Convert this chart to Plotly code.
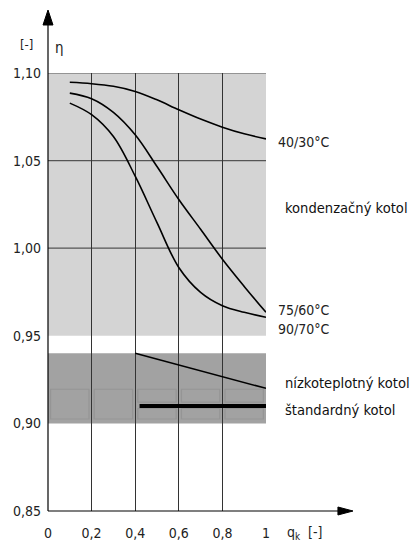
import plotly.graph_objects as go

# ---- data ----
q_load = [0.1, 0.2, 0.3, 0.4, 0.5, 0.6, 0.7, 0.8, 0.9, 1.0]
eta_40_30 = [1.0947, 1.0939, 1.0924, 1.0895, 1.0847, 1.0790, 1.0737, 1.0691, 1.0653, 1.0624]
eta_75_60 = [1.0885, 1.0853, 1.0775, 1.0647, 1.0466, 1.0278, 1.0108, 0.9937, 0.9782, 0.9634]
eta_90_70 = [1.0828, 1.0762, 1.0637, 1.0411, 1.0146, 0.9890, 0.9748, 0.9672, 0.9634, 0.9606]

lowtemp_q = [0.4, 1.0]
lowtemp_eta = [0.940, 0.920]
standard_q = [0.42, 1.0]
standard_eta = [0.910, 0.910]

series_labels = ["40/30°C", "75/60°C", "90/70°C"]
label_y = [1.0606, 0.9647, 0.9539]

x_ticks = [0, 0.2, 0.4, 0.6, 0.8, 1.0]
x_ticktext = ["0", "0,2", "0,4", "0,6", "0,8", "1"]
y_ticks = [0.85, 0.90, 0.95, 1.00, 1.05, 1.10]
y_ticktext = ["0,85", "0,90", "0,95", "1,00", "1,05", "1,10"]

cond_band = (0.95, 1.10)
conv_band = (0.90, 0.94)
h_grid = [1.10, 1.05, 1.00]

TICKFONT = "DejaVu Sans Condensed, DejaVu Sans, sans-serif"
LABFONT = "DejaVu Sans Condensed, DejaVu Sans, sans-serif"

fig = go.Figure()

for ys in (eta_40_30, eta_75_60, eta_90_70):
    fig.add_trace(go.Scatter(x=q_load, y=ys, mode="lines",
                             line=dict(color="black", width=1.6, shape="spline", smoothing=1.0),
                             hoverinfo="skip", showlegend=False))

fig.add_trace(go.Scatter(x=lowtemp_q, y=lowtemp_eta, mode="lines",
                         line=dict(color="black", width=1.5), showlegend=False))
fig.add_trace(go.Scatter(x=standard_q, y=standard_eta, mode="lines",
                         line=dict(color="black", width=4), showlegend=False))

shapes = []
# shaded bands
shapes.append(dict(type="rect", xref="x", yref="y", x0=0, x1=1, y0=cond_band[0], y1=cond_band[1],
                   fillcolor="#d4d4d4", line=dict(width=0), layer="below"))
shapes.append(dict(type="rect", xref="x", yref="y", x0=0, x1=1, y0=conv_band[0], y1=conv_band[1],
                   fillcolor="#a2a2a2", line=dict(width=0), layer="below"))
# subtle inner boxes in dark band
box_col = "#959595"
for i in range(5):
    a = x_ticks[i] + 0.012
    b = x_ticks[i + 1] - 0.012
    if x_ticks[i] < 0.4:
        shapes.append(dict(type="rect", xref="x", yref="y", x0=a, x1=b, y0=0.9025, y1=0.9195,
                           fillcolor="rgba(0,0,0,0)", line=dict(color=box_col, width=1.2), layer="below"))
    else:
        shapes.append(dict(type="rect", xref="x", yref="y", x0=a, x1=b, y0=0.9122, y1=0.9195,
                           fillcolor="rgba(0,0,0,0)", line=dict(color=box_col, width=1.2), layer="below"))
        shapes.append(dict(type="rect", xref="x", yref="y", x0=a, x1=b, y0=0.9025, y1=0.9085,
                           fillcolor="rgba(0,0,0,0)", line=dict(color=box_col, width=1.2), layer="below"))
# horizontal grid lines
for yv in h_grid:
    shapes.append(dict(type="line", xref="x", yref="y", x0=0, x1=1, y0=yv, y1=yv,
                       line=dict(color="#555555", width=1.2), layer="below"))

# axes with arrows (paper coords)
shapes.append(dict(type="line", xref="paper", yref="paper", x0=0, x1=0, y0=0, y1=1.115,
                   line=dict(color="black", width=1.2)))
shapes.append(dict(type="path", xref="paper", yref="paper",
                   path="M 0 1.1438 L -0.0229 1.1096 L 0.0229 1.1096 Z",
                   fillcolor="black", line=dict(color="black", width=1)))
shapes.append(dict(type="line", xref="paper", yref="paper", x0=0, x1=1.34, y0=0, y1=0,
                   line=dict(color="black", width=1.2)))
shapes.append(dict(type="path", xref="paper", yref="paper",
                   path="M 1.399 0 L 1.330 0.0091 L 1.330 -0.0091 Z",
                   fillcolor="black", line=dict(color="black", width=1)))

annotations = []
for t, yv in zip(series_labels, label_y):
    annotations.append(dict(text=t, xref="paper", yref="y", x=1.046, y=yv,
                            xanchor="left", yanchor="middle", showarrow=False,
                            font=dict(family=TICKFONT, size=14, color="#222")))
annotations.append(dict(text="kondenzačný kotol", xref="paper", yref="y", x=1.078, y=1.0235,
                        xanchor="left", yanchor="middle", showarrow=False,
                        font=dict(family=LABFONT, size=14.6, color="#111")))
annotations.append(dict(text="nízkoteplotný kotol", xref="paper", yref="y", x=1.078, y=0.9235,
                        xanchor="left", yanchor="middle", showarrow=False,
                        font=dict(family=LABFONT, size=14.6, color="#111")))
annotations.append(dict(text="štandardný kotol", xref="paper", yref="y", x=1.078, y=0.9077,
                        xanchor="left", yanchor="middle", showarrow=False,
                        font=dict(family=LABFONT, size=14.6, color="#111")))
annotations.append(dict(text="[-]", xref="paper", yref="paper", x=(26 - 48) / 218, y=(511 - 45) / 438,
                        xanchor="center", yanchor="middle", showarrow=False,
                        font=dict(family=TICKFONT, size=13, color="#222")))
annotations.append(dict(text="η", xref="paper", yref="paper", x=(59 - 48) / 218, y=(511 - 48) / 438,
                        xanchor="center", yanchor="middle", showarrow=False,
                        font=dict(family=TICKFONT, size=15, color="#222")))
annotations.append(dict(text="q<sub>k</sub>  [-]", xref="paper", yref="paper", x=(285 - 48) / 218,
                        y=-(533 - 511) / 438, xanchor="left", yanchor="middle", showarrow=False,
                        font=dict(family=TICKFONT, size=14, color="#222")))

fig.update_layout(
    width=417, height=545,
    margin=dict(l=48, r=151, t=73, b=34, pad=0, autoexpand=False),
    plot_bgcolor="white", paper_bgcolor="white",
    shapes=shapes, annotations=annotations,
    showlegend=False,
    xaxis=dict(range=[0, 1], tickvals=x_ticks, ticktext=x_ticktext, showgrid=True,
               gridcolor="#333333", gridwidth=1.2, zeroline=False, showline=False,
               ticks="", ticklabelstandoff=12, automargin=False,
               tickfont=dict(family=TICKFONT, size=14, color="#222"), fixedrange=True),
    yaxis=dict(range=[0.85, 1.10], tickvals=y_ticks, ticktext=y_ticktext, showgrid=False,
               zeroline=False, showline=False, ticks="", ticklabelstandoff=6, automargin=False,
               tickfont=dict(family=TICKFONT, size=14, color="#222"), fixedrange=True),
)

fig.write_html("out.html")
